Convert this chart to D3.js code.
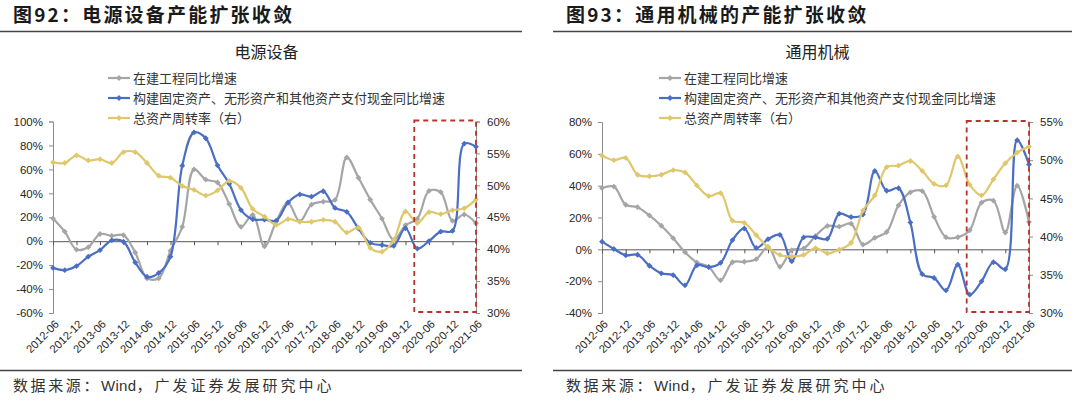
<!DOCTYPE html>
<html>
<head>
<meta charset="utf-8">
<script src="https://cdn.jsdelivr.net/npm/d3@7"></script>
<style>
  body { margin: 0; background: #fff; }
  svg text { font-family: "Liberation Sans", Arial, sans-serif; }
  svg text.cjk, svg tspan.cjk { font-family: "Noto Sans CJK SC", "Noto Sans", sans-serif; }
</style>
</head>
<body>
<div id="chart"></div>
<script>
// quarterly observations, 2012-06 .. 2021-06
const quarters = [
  '2012-06', '2012-09', '2012-12', '2013-03', '2013-06', '2013-09', '2013-12', '2014-03',
  '2014-06', '2014-09', '2014-12', '2015-03', '2015-06', '2015-09', '2015-12', '2016-03',
  '2016-06', '2016-09', '2016-12', '2017-03', '2017-06', '2017-09', '2017-12', '2018-03',
  '2018-06', '2018-09', '2018-12', '2019-03', '2019-06', '2019-09', '2019-12', '2020-03',
  '2020-06', '2020-09', '2020-12', '2021-03', '2021-06'
];

const seriesNames = ['在建工程同比增速', '构建固定资产、无形资产和其他资产支付现金同比增速', '总资产周转率（右）'];

// 图92 电源设备 (%)
const powerCip = [19, 8, -7, -5, 6, 4.5, 5, -9.5, -31, -31, -8, 12, 60, 51.5, 49, 31, 12, 22, -4.4,
  16.5, 32, 16.5, 30.5, 33, 34.5, 70, 53, 34.7, 18.8, 1, 13.3, 18.6, 42, 41, 17, 22.3, 15];
const powerCapex = [-22.3, -24.2, -20.8, -12.9, -7.5, 0.7, -0.5, -17.8, -29.7, -26.6, -12.9, 63, 90.9,
  86, 63.4, 48, 26, 18.3, 18, 17.2, 32.3, 39.1, 37.2, 41.7, 27.8, 24.5, 10.5, -1.4, -3.2, -3.8, 10.8,
  -6.2, 0.1, 8, 8.6, 81.5, 79];
const powerTurnover = [53.6, 53.5, 54.7, 53.9, 54.1, 53.5, 55.2, 55.2, 53.5, 51.5, 51.2, 49.9, 49.3,
  48.4, 49.2, 50.7, 49.6, 46.3, 45.1, 43.8, 44.7, 44.3, 44.3, 44.6, 44.3, 42.6, 43.4, 40.2, 39.6, 41.4,
  45.9, 44.1, 45.8, 45.5, 46.1, 46.4, 47.8];

// 图93 通用机械 (%)
const machCip = [38.5, 39.4, 28, 26.5, 21.3, 14.8, 7, -1.8, -8.2, -11, -19.5, -8.1, -7.8, -6.2, 1.5,
  -11, -0.5, 0.5, 8.4, 14.7, 14.3, 16.1, 3, 7.2, 10.9, 27.6, 35.8, 36.6, 20.4, 7.6, 7.6, 12, 29.3, 30.6,
  10.6, 40, 17.2];
const machCapex = [4.8, 0.2, -3.7, -3.4, -10.3, -15.1, -16.2, -22.6, -10, -11.2, -8.5, 5.8, 13.1, 0.9,
  6.4, 9.1, -7.5, 7.5, 7.5, 6.6, 22.4, 20.3, 21.9, 49.2, 36.8, 38.4, 16.9, -15.6, -18, -25.8, -9.6,
  -28.5, -20.1, -8.1, -12.5, 68.6, 53.3];
const machTurnover = [50.6, 50.0, 50.3, 48.1, 47.9, 48.1, 48.7, 48.4, 46.7, 45.3, 45.7, 42.1, 41.8,
  40.2, 38.6, 37.6, 37.4, 37.6, 38.5, 37.8, 38.3, 39.2, 43.4, 45.4, 49.1, 49.3, 49.9, 48.6, 46.9, 46.7,
  50.5, 46.8, 45.4, 47.5, 49.6, 51.0, 51.8];

const powerLeftTicks = [-60, -40, -20, 0, 20, 40, 60, 80, 100];
const powerRightTicks = [30, 35, 40, 45, 50, 55, 60];
const machLeftTicks = [-40, -20, 0, 20, 40, 60, 80];
const machRightTicks = [30, 35, 40, 45, 50, 55];

// dashed highlight window starts just before 2020-03
const highlightFrom = '2020-03';

const colors = ['#a5a5a5', '#4a6ec4', '#dfc76c'];

const svg = d3.select('#chart').append('svg')
  .attr('width', 1080)
  .attr('height', 402);

drawPanel(svg, {
  figTitle: '图92：电源设备产能扩张收敛',
  chartTitle: '电源设备',
  frame: { x0: 0, x1: 522, titleX: 13 },
  plot: { left: 53, right: 476, top: 121.5, bottom: 313 },
  legendX: 108,
  leftTicks: powerLeftTicks,
  rightTicks: powerRightTicks,
  series: [powerCip, powerCapex, powerTurnover],
});

drawPanel(svg, {
  figTitle: '图93：通用机械的产能扩张收敛',
  chartTitle: '通用机械',
  frame: { x0: 553, x1: 1072, titleX: 566 },
  plot: { left: 602, right: 1029, top: 122, bottom: 313 },
  legendX: 659,
  leftTicks: machLeftTicks,
  rightTicks: machRightTicks,
  series: [machCip, machCapex, machTurnover],
});

function drawPanel(svg, cfg) {
  const p = cfg.plot;
  const g = svg.append('g');

  createFrame(g, cfg);

  const x = d3.scaleLinear().domain([0, quarters.length - 1]).range([p.left, p.right]);
  const yL = d3.scaleLinear().domain(d3.extent(cfg.leftTicks)).range([p.bottom, p.top]);
  const yR = d3.scaleLinear().domain(d3.extent(cfg.rightTicks)).range([p.bottom, p.top]);

  createAxes(g, cfg, x, yL, yR);
  createLines(g, cfg, x, yL, yR);
  createHighlight(g, x, p);
  createLegend(g, cfg);
}

function createFrame(g, cfg) {
  const f = cfg.frame;
  g.append('text')
    .attr('class', 'cjk')
    .attr('x', f.titleX)
    .attr('y', 22)
    .attr('font-size', 19)
    .attr('font-weight', 'bold')
    .attr('letter-spacing', 2.2)
    .attr('fill', '#1a1a1a')
    .text(cfg.figTitle);

  [31.5, 370.5].forEach(yy => {
    g.append('line')
      .attr('x1', f.x0).attr('x2', f.x1)
      .attr('y1', yy).attr('y2', yy)
      .attr('stroke', '#444')
      .attr('stroke-width', 1.3);
  });

  g.append('text')
    .attr('class', 'cjk')
    .attr('x', (cfg.plot.left + cfg.plot.right) / 2 + 2)
    .attr('y', 58)
    .attr('text-anchor', 'middle')
    .attr('font-size', 16)
    .attr('fill', '#222')
    .text(cfg.chartTitle);

  const foot = g.append('text')
    .attr('x', f.titleX)
    .attr('y', 391)
    .attr('font-size', 15)
    .attr('fill', '#333');
  foot.append('tspan').attr('class', 'cjk').attr('letter-spacing', 2.6).text('数据来源：');
  foot.append('tspan').attr('letter-spacing', 0.3).text('Wind');
  foot.append('tspan').attr('class', 'cjk').attr('letter-spacing', 3).text('，广发证券发展研究中心');
}

function createAxes(g, cfg, x, yL, yR) {
  const p = cfg.plot;
  const axisColor = '#8c8c8c';

  const left = g.append('g')
    .attr('transform', `translate(${p.left},0)`)
    .call(d3.axisLeft(yL).tickValues(cfg.leftTicks).tickSize(4).tickPadding(6).tickFormat(d => d + '%'));
  const right = g.append('g')
    .attr('transform', `translate(${p.right},0)`)
    .call(d3.axisRight(yR).tickValues(cfg.rightTicks).tickSize(4).tickPadding(7).tickFormat(d => d + '%'));

  [left, right].forEach(ax => {
    ax.select('.domain').attr('stroke', axisColor);
    ax.selectAll('.tick line').attr('stroke', axisColor);
    ax.selectAll('.tick text')
      .attr('fill', '#262626')
      .attr('font-size', 11.5)
      .style('font-family', '"Liberation Sans", Arial, sans-serif');
  });

  // category axis sits on the zero line
  const evenIdx = d3.range(0, quarters.length, 2);
  const xAxis = g.append('g')
    .attr('transform', `translate(0,${yL(0)})`)
    .call(d3.axisBottom(x).tickValues(evenIdx).tickSize(4).tickFormat(''));
  xAxis.select('.domain').attr('stroke', '#555');
  xAxis.selectAll('.tick line').attr('stroke', '#555');

  g.append('g')
    .selectAll('text')
    .data(evenIdx)
    .enter().append('text')
    .attr('transform', i => `translate(${x(i) + 4},${p.bottom + 9}) rotate(-45)`)
    .attr('text-anchor', 'end')
    .attr('dy', '0.35em')
    .attr('font-size', 11.2)
    .attr('fill', '#262626')
    .text(i => quarters[i]);
}

function createLines(g, cfg, x, yL, yR) {
  const scales = [yL, yL, yR];
  const marker = d3.symbol(d3.symbolSquare).size(17);

  cfg.series.forEach((values, s) => {
    const y = scales[s];
    const line = d3.line()
      .x((d, i) => x(i))
      .y(d => y(d))
      .curve(d3.curveCatmullRom.alpha(0.5));

    g.append('path')
      .datum(values)
      .attr('fill', 'none')
      .attr('stroke', colors[s])
      .attr('stroke-width', 2.2)
      .attr('stroke-linejoin', 'round')
      .attr('d', line);

    g.append('g')
      .selectAll('path')
      .data(values)
      .enter().append('path')
      .attr('d', marker)
      .attr('fill', colors[s])
      .attr('transform', (d, i) => `translate(${x(i)},${y(d)}) rotate(45)`);
  });
}

function createHighlight(g, x, p) {
  const from = x(quarters.indexOf(highlightFrom)) - 3;
  g.append('rect')
    .attr('x', from)
    .attr('y', p.top - 1)
    .attr('width', p.right - from)
    .attr('height', p.bottom - p.top)
    .attr('fill', 'none')
    .attr('stroke', '#b8332b')
    .attr('stroke-width', 1.8)
    .attr('stroke-dasharray', '5,4');
}

function createLegend(g, cfg) {
  const rows = g.append('g')
    .selectAll('g')
    .data(seriesNames)
    .enter().append('g')
    .attr('transform', (d, i) => `translate(${cfg.legendX},${78 + i * 20})`);

  rows.append('line')
    .attr('x1', 0).attr('x2', 22)
    .attr('stroke', (d, i) => colors[i])
    .attr('stroke-width', 2.2);

  rows.append('path')
    .attr('d', d3.symbol(d3.symbolSquare).size(17))
    .attr('fill', (d, i) => colors[i])
    .attr('transform', 'translate(11,0) rotate(45)');

  rows.append('text')
    .attr('class', 'cjk')
    .attr('x', 25)
    .attr('dy', '0.35em')
    .attr('font-size', 13)
    .attr('fill', '#333')
    .text(d => d);
}
</script>
</body>
</html>
